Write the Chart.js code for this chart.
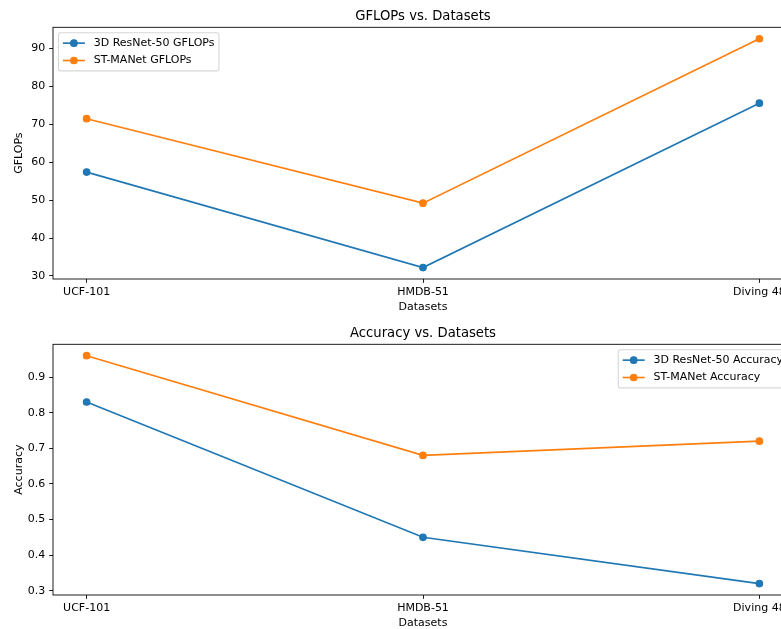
<!DOCTYPE html>
<html>
<head>
<meta charset="utf-8">
<script src="https://cdn.jsdelivr.net/npm/chart.js@4/dist/chart.umd.min.js"></script>
<style>
  html, body { margin: 0; padding: 0; background: #fff; overflow: hidden; width: 781px; height: 629px; }
  canvas { position: absolute; left: 0; }
  #gflopsChart { top: 0; }
  #accChart { top: 316px; }
</style>
</head>
<body>
<canvas id="gflopsChart" width="820" height="313"></canvas>
<canvas id="accChart" width="820" height="313"></canvas>
<script>
// ---- data ----
const datasetNames = ['UCF-101', 'HMDB-51', 'Diving 48'];
const resnetGflops = [57.4, 32.2, 75.6];
const stmanetGflops = [71.5, 49.2, 92.6];
const resnetAccuracy = [0.83, 0.45, 0.32];
const stmanetAccuracy = [0.96, 0.68, 0.72];
const gflopsTicks = [30, 40, 50, 60, 70, 80, 90];
const accuracyTicks = [0.3, 0.4, 0.5, 0.6, 0.7, 0.8, 0.9];

// ---- style ----
const PT = 1.1;                       // px per point
const FAMILY = '"DejaVu Sans", sans-serif';
const BLUE = '#1f77b4';
const ORANGE = '#ff7f0e';
const TICK_FS = 10 * PT;
const TITLE_FS = 12 * PT;

// 5% margin around the data, as matplotlib autoscaling does
function paddedRange(values) {
  const lo = Math.min(...values), hi = Math.max(...values);
  const m = (hi - lo) * 0.05;
  return [lo - m, hi + m];
}

// full rectangular frame around the plotting area
const axesFrame = {
  id: 'axesFrame',
  afterDatasetsDraw(chart) {
    const { ctx, chartArea: a } = chart;
    ctx.save();
    ctx.strokeStyle = '#000';
    ctx.lineWidth = 0.8 * PT;
    ctx.strokeRect(a.left, a.top, a.right - a.left, a.bottom - a.top);
    ctx.restore();
  }
};

// boxed legend placed inside a corner of the plotting area
const cornerLegend = {
  id: 'cornerLegend',
  afterDatasetsDraw(chart, args, opts) {
    const { ctx, chartArea: a } = chart;
    const items = chart.data.datasets;
    const fs = TICK_FS;
    ctx.save();
    ctx.font = `${fs}px ${FAMILY}`;
    const textW = Math.max(...items.map(d => ctx.measureText(d.label).width));
    const pad = 0.4 * fs, axPad = 0.5 * fs, hLen = 2 * fs, hGap = 0.8 * fs, rowGap = 0.5 * fs, rowH = 1.08 * fs;
    const w = pad + hLen + hGap + textW + pad;
    const h = 2 * pad + rowH * items.length + rowGap * (items.length - 1);
    const x = opts.corner === 'right' ? a.right - axPad - w : a.left + axPad;
    const y = a.top + axPad;
    const r = 0.2 * fs;
    ctx.beginPath();
    ctx.roundRect(x, y, w, h, r);
    ctx.fillStyle = 'rgba(255,255,255,0.8)';
    ctx.fill();
    ctx.strokeStyle = 'rgba(204,204,204,0.8)';
    ctx.lineWidth = 1 * PT;
    ctx.stroke();
    items.forEach((d, i) => {
      const cy = y + pad + rowH / 2 + i * (rowH + rowGap);
      const hx = x + pad;
      ctx.strokeStyle = d.borderColor;
      ctx.lineWidth = 1.5 * PT;
      ctx.beginPath();
      ctx.moveTo(hx, cy);
      ctx.lineTo(hx + hLen, cy);
      ctx.stroke();
      ctx.beginPath();
      ctx.arc(hx + hLen / 2, cy, 3 * PT, 0, Math.PI * 2);
      ctx.fillStyle = d.borderColor;
      ctx.fill();
      ctx.lineWidth = 1 * PT;
      ctx.stroke();
      ctx.fillStyle = '#000';
      ctx.textBaseline = 'middle';
      ctx.textAlign = 'left';
      ctx.fillText(d.label, hx + hLen + hGap, cy);
    });
    ctx.restore();
  }
};

function series(label, values, color, order) {
  return {
    label,
    data: values.map((v, i) => ({ x: i, y: v })),
    borderColor: color,
    backgroundColor: color,
    pointBackgroundColor: color,
    pointBorderColor: color,
    borderWidth: 1.5 * PT,
    pointRadius: 3 * PT,
    pointBorderWidth: 1 * PT,
    tension: 0,
    order
  };
}

function makeChart(id, opts) {
  const [ymin, ymax] = paddedRange(opts.series.flatMap(s => s.values));
  const xm = (datasetNames.length - 1) * 0.05;
  const tickGrid = { drawOnChartArea: false, drawTicks: true, tickLength: 3.5 * PT, color: '#000', lineWidth: 0.8 * PT };
  const tickFont = { family: FAMILY, size: TICK_FS, lineHeight: 1.2 };
  return new Chart(document.getElementById(id), {
    type: 'line',
    data: {
      datasets: opts.series.map((s, i) => series(s.label, s.values, s.color, opts.series.length - i))
    },
    options: {
      responsive: false,
      animation: false,
      devicePixelRatio: 1,
      events: [],
      layout: { padding: { left: 0, right: 27, top: opts.topPad, bottom: 0 } },
      scales: {
        x: {
          type: 'linear',
          min: -xm,
          max: datasetNames.length - 1 + xm,
          afterBuildTicks: s => { s.ticks = datasetNames.map((_, i) => ({ value: i })); },
          afterFit: s => { s.height = 34; },
          ticks: {
            callback: v => datasetNames[v],
            font: tickFont, color: '#000', padding: 2.5,
            maxRotation: 0, autoSkip: false
          },
          grid: tickGrid,
          border: { display: false },
          title: {
            display: true, text: 'Datasets', color: '#000',
            font: { family: FAMILY, size: TICK_FS, lineHeight: 1.0 },
            padding: { top: 0, bottom: 0 }
          }
        },
        y: {
          type: 'linear',
          min: ymin,
          max: ymax,
          afterBuildTicks: s => { s.ticks = opts.ticks.map(v => ({ value: v })); },
          afterFit: s => { s.width = 53; },
          ticks: {
            callback: opts.tickFormat,
            font: tickFont, color: '#000', padding: 4, autoSkip: false
          },
          grid: tickGrid,
          border: { display: false },
          title: {
            display: true, text: opts.yTitle, color: '#000',
            font: { family: FAMILY, size: TICK_FS, lineHeight: 1.2 },
            padding: { top: 12.8, bottom: 0 }
          }
        }
      },
      plugins: {
        legend: { display: false },
        tooltip: { enabled: false },
        title: {
          display: true, text: opts.title, color: '#000', fullSize: false,
          font: { family: FAMILY, size: TITLE_FS, weight: 'normal', lineHeight: 1.2 },
          padding: { top: 8.2, bottom: 3.26 }
        },
        cornerLegend: { corner: opts.legendCorner }
      }
    },
    plugins: [axesFrame, cornerLegend]
  });
}

makeChart('gflopsChart', {
  title: 'GFLOPs vs. Datasets',
  yTitle: 'GFLOPs',
  ticks: gflopsTicks,
  tickFormat: v => String(v),
  topPad: 0,
  legendCorner: 'left',
  series: [
    { label: '3D ResNet-50 GFLOPs', values: resnetGflops, color: BLUE },
    { label: 'ST-MANet GFLOPs', values: stmanetGflops, color: ORANGE }
  ]
});

makeChart('accChart', {
  title: 'Accuracy vs. Datasets',
  yTitle: 'Accuracy',
  ticks: accuracyTicks,
  tickFormat: v => v.toFixed(1),
  topPad: 1,
  legendCorner: 'right',
  series: [
    { label: '3D ResNet-50 Accuracy', values: resnetAccuracy, color: BLUE },
    { label: 'ST-MANet Accuracy', values: stmanetAccuracy, color: ORANGE }
  ]
});
</script>
</body>
</html>
